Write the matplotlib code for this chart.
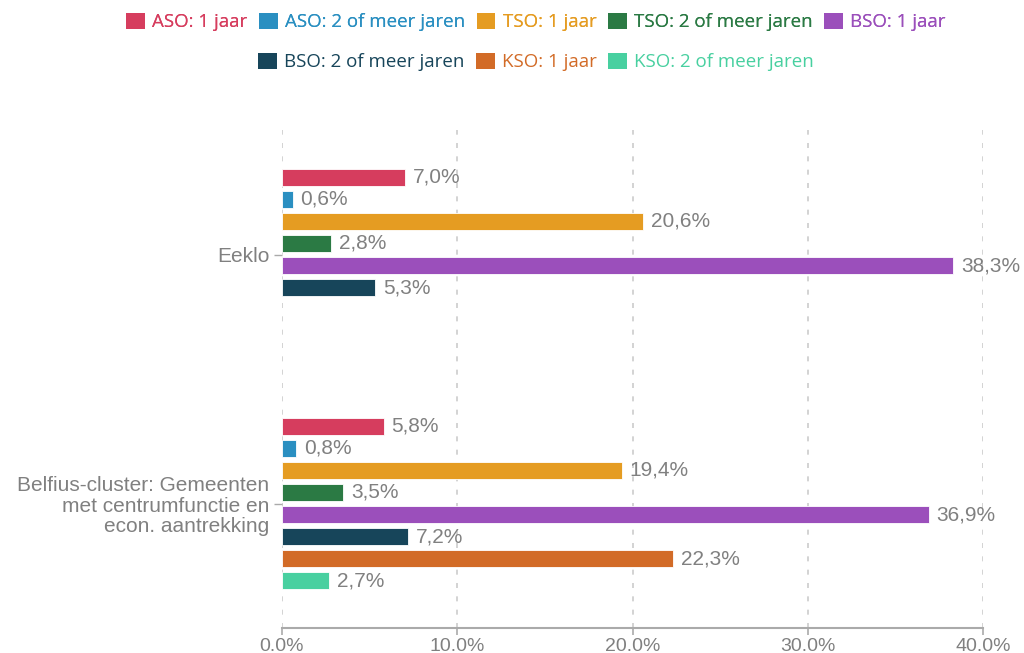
import numpy as np
import matplotlib
matplotlib.use("Agg")
import matplotlib.pyplot as plt
from matplotlib.patches import Patch

categories = ["Eeklo", "Belfius-cluster: Gemeenten\nmet centrumfunctie en\necon. aantrekking"]
series = ["ASO: 1 jaar", "ASO: 2 of meer jaren", "TSO: 1 jaar", "TSO: 2 of meer jaren",
          "BSO: 1 jaar", "BSO: 2 of meer jaren", "KSO: 1 jaar", "KSO: 2 of meer jaren"]
colors = ["#d63d5e", "#2a8fc1", "#e59c22", "#2b7a44", "#9b4fbb", "#17455a", "#d26b27", "#48d0a0"]
eeklo = [7.0, 0.6, 20.6, 2.8, 38.3, 5.3, np.nan, np.nan]
belfius = [5.8, 0.8, 19.4, 3.5, 36.9, 7.2, 22.3, 2.7]
xticks = [0, 10, 20, 30, 40]
xticklabels = ["0.0%", "10.0%", "20.0%", "30.0%", "40.0%"]

values = np.array([eeklo, belfius])

fig = plt.figure(figsize=(10.24, 6.53), dpi=100)
ax = fig.add_axes([282/1024, (653-628)/653, (983-282)/1024, (628-130)/653])

grey = "#808080"
n = len(series)
slot = 0.0884
bh = 0.066
for i, s in enumerate(series):
    ypos = np.arange(len(categories)) + (i - (n - 1) / 2) * slot
    vals = values[:, i]
    ax.barh(ypos, vals, height=bh, color=colors[i], edgecolor="white", linewidth=0.6, zorder=3)
    for y, v in zip(ypos, vals):
        if not np.isnan(v):
            ax.text(v + 0.45, y, f"{v:.1f}%".replace(".", ","), va="center", ha="left",
                    fontsize=15, color=grey, family="Liberation Sans", zorder=4)

ax.set_ylim(1.5, -0.5)
ax.set_xlim(0, 40)
ax.set_yticks(range(len(categories)))
ax.set_yticklabels(categories, fontsize=15, color=grey, family="Liberation Sans", linespacing=1.1)
ax.set_xticks(xticks)
ax.set_xticklabels(xticklabels, fontsize=14, color=grey, family="Liberation Sans")
ax.tick_params(axis="x", length=5, color="#aaaaaa", width=1.2, pad=2)
ax.tick_params(axis="y", length=6, color="#aaaaaa", width=1, pad=3)
for sp in ["top", "right", "left"]:
    ax.spines[sp].set_visible(False)
ax.spines["bottom"].set_color("#aaaaaa")
ax.spines["bottom"].set_linewidth(1.5)
ax.grid(axis="x", linestyle=(0, (3, 5)), color="#cccccc", linewidth=1.2, zorder=0)
ax.set_axisbelow(True)

def make_legend(idx, ycenter):
    handles = [Patch(facecolor=colors[i], edgecolor="none") for i in idx]
    leg = fig.legend(handles, [series[i] for i in idx], loc="center", ncol=len(idx),
                     bbox_to_anchor=(536/1024, 1 - ycenter/653), frameon=False,
                     prop={"family": "Open Sans", "size": 13.5}, handlelength=1.0,
                     handleheight=1.0, handletextpad=0.4, columnspacing=0.6)
    for t, i in zip(leg.get_texts(), idx):
        t.set_color(colors[i])
    return leg

leg1 = make_legend([0, 1, 2, 3, 4], 22)
fig.add_artist(leg1)
leg2 = make_legend([5, 6, 7], 62)

fig.savefig("out.png", dpi=100)
